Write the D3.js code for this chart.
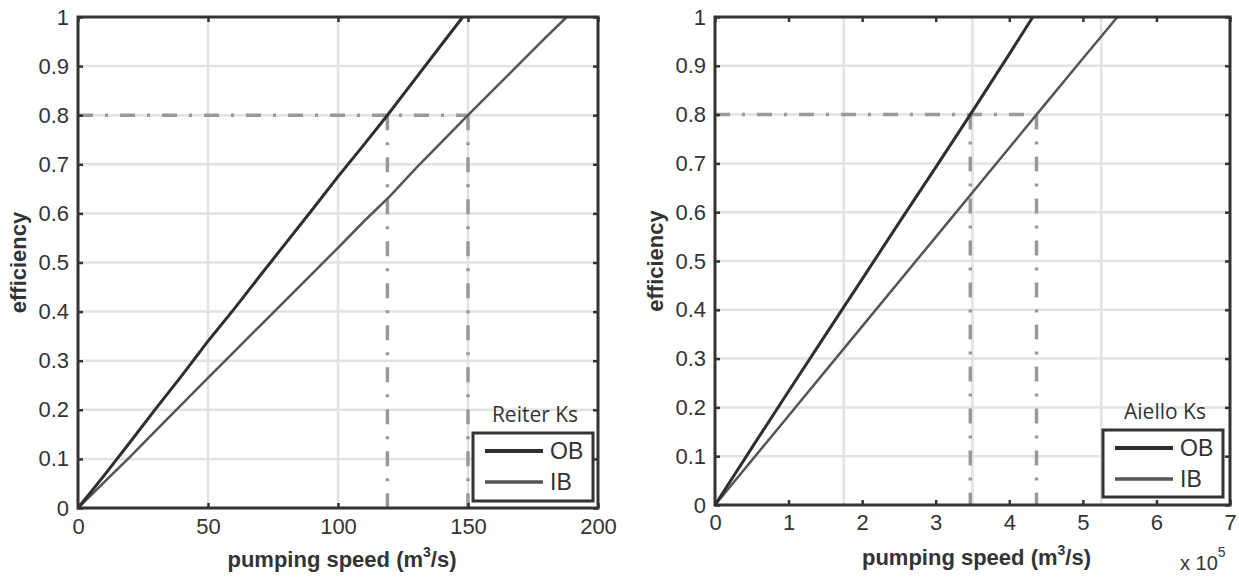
<!DOCTYPE html>
<html><head><meta charset="utf-8">
<script src="https://cdn.jsdelivr.net/npm/d3@7"></script>
<style>
body{margin:0;background:#fff;}
svg{display:block;}
</style></head>
<body>
<svg id="c" width="1239" height="578"></svg>
<script>
// ---- Data ----
// Left panel (Reiter Ks), pumping speed in m^3/s
const leftOBSpeed = [0, 10, 20, 30, 40, 50, 60, 70, 80, 90, 100, 110, 119, 130, 140, 148];
const leftOBEff   = [0, 0.066, 0.134, 0.203, 0.27, 0.34, 0.405, 0.473, 0.54, 0.607, 0.675, 0.74, 0.8, 0.876, 0.945, 1.0];
const leftIBSpeed = [0, 10, 20, 30, 36, 50, 60, 70, 80, 90, 100, 110, 120, 130, 140, 150, 160, 170, 180, 188];
const leftIBEff   = [0, 0.052, 0.104, 0.158, 0.19, 0.265, 0.318, 0.371, 0.424, 0.477, 0.53, 0.584, 0.635, 0.692, 0.746, 0.8, 0.853, 0.906, 0.959, 1.0];
const leftRefSpeeds = [119, 150];
// Right panel (Aiello Ks)
const rightOBSpeed = [0, 50000, 100000, 150000, 200000, 250000, 300000, 347000, 400000, 432000];
const rightOBEff   = [0, 0.117, 0.233, 0.348, 0.463, 0.578, 0.692, 0.8, 0.924, 1.0];
const rightIBSpeed = [0, 100000, 200000, 300000, 400000, 437000, 500000, 547000];
const rightIBEff   = [0, 0.183, 0.366, 0.549, 0.732, 0.8, 0.915, 1.0];
const rightRefSpeeds = [347000, 437000];
const refEff = 0.8;

const yTicks = [0, 0.1, 0.2, 0.3, 0.4, 0.5, 0.6, 0.7, 0.8, 0.9, 1];
const yTickLabels = ["0", "0.1", "0.2", "0.3", "0.4", "0.5", "0.6", "0.7", "0.8", "0.9", "1"];
const leftXTicks = [0, 50, 100, 150, 200];
const leftXGrid = [50, 100, 150];
const rightXTicks = [0, 100000, 200000, 300000, 400000, 500000, 600000, 700000];
const rightXTickLabels = ["0", "1", "2", "3", "4", "5", "6", "7"];
const rightXGrid = [175000, 350000, 525000];
const seriesNames = ["OB", "IB"];
const legendTitles = ["Reiter Ks", "Aiello Ks"];

const svg = d3.select("#c");
const TXT = "#333";
const FONT = "'Liberation Sans', Arial, sans-serif";

function panel(cfg) {
  const x = d3.scaleLinear().domain(cfg.xDomain).range([cfg.x0, cfg.x1]);
  const y = d3.scaleLinear().domain([0, 1]).range([cfg.y0, cfg.y1]);
  const g = svg.append("g");

  // grid
  g.selectAll(".gy").data(yTicks.slice(1, -1)).join("line")
    .attr("x1", cfg.x0).attr("x2", cfg.x1)
    .attr("y1", d => y(d)).attr("y2", d => y(d))
    .attr("stroke", "#e2e2e2").attr("stroke-width", 2.5);
  g.selectAll(".gx").data(cfg.xGrid).join("line")
    .attr("x1", d => x(d)).attr("x2", d => x(d))
    .attr("y1", cfg.y0).attr("y2", cfg.y1)
    .attr("stroke", "#e2e2e2").attr("stroke-width", 2.5);

  // reference dash-dot lines
  const dash = "15,12,3,12";
  const maxRef = d3.max(cfg.refs);
  g.append("line").attr("x1", x(0)).attr("x2", x(maxRef))
    .attr("y1", y(refEff)).attr("y2", y(refEff))
    .attr("stroke", "#999").attr("stroke-width", 3.5).attr("stroke-dasharray", dash);
  g.selectAll(".rv").data(cfg.refs).join("line")
    .attr("x1", d => x(d)).attr("x2", d => x(d))
    .attr("y1", y(refEff)).attr("y2", y(0))
    .attr("stroke", "#999").attr("stroke-width", 3.5).attr("stroke-dasharray", dash);

  // series lines
  const line = d3.line().x(d => x(d[0])).y(d => y(d[1]));
  const ob = cfg.obS.map((s, i) => [s, cfg.obE[i]]);
  const ib = cfg.ibS.map((s, i) => [s, cfg.ibE[i]]);
  g.append("path").datum(ib).attr("d", line).attr("fill", "none")
    .attr("stroke", "#555").attr("stroke-width", 2.5);
  g.append("path").datum(ob).attr("d", line).attr("fill", "none")
    .attr("stroke", "#2e2e2e").attr("stroke-width", 3);

  // axes (ticks inside)
  const fmtX = d => cfg.xLabels[cfg.xTicks.indexOf(d)];
  const fmtY = d => yTickLabels[yTicks.indexOf(d)];
  const ax = [
    g.append("g").attr("transform", `translate(0,${cfg.y0})`)
      .call(d3.axisBottom(x).tickValues(cfg.xTicks).tickFormat(fmtX).tickSize(-5).tickSizeOuter(0).tickPadding(cfg.xPad)),
    g.append("g").attr("transform", `translate(0,${cfg.y1})`)
      .call(d3.axisTop(x).tickValues(cfg.xTicks).tickFormat("").tickSize(-5).tickSizeOuter(0)),
    g.append("g").attr("transform", `translate(${cfg.x0},0)`)
      .call(d3.axisLeft(y).tickValues(yTicks).tickFormat(fmtY).tickSize(-5).tickSizeOuter(0).tickPadding(9)),
    g.append("g").attr("transform", `translate(${cfg.x1},0)`)
      .call(d3.axisRight(y).tickValues(yTicks).tickFormat("").tickSize(-5).tickSizeOuter(0))
  ];
  ax.forEach(a => {
    a.select(".domain").remove();
    a.selectAll(".tick line").attr("stroke", "#333").attr("stroke-width", 2.5);
    a.selectAll(".tick text").attr("fill", TXT).attr("font-family", FONT).attr("font-size", 22);
  });

  // frame
  g.append("rect").attr("x", cfg.x0).attr("y", cfg.y1)
    .attr("width", cfg.x1 - cfg.x0).attr("height", cfg.y0 - cfg.y1)
    .attr("fill", "none").attr("stroke", "#333").attr("stroke-width", 3);

  // axis labels
  const xl = g.append("text").attr("x", (cfg.x0 + cfg.x1) / 2 + 4).attr("y", cfg.xLabelY)
    .attr("text-anchor", "middle").attr("font-family", FONT).attr("font-weight", "bold")
    .attr("font-size", 22).attr("fill", TXT);
  xl.append("tspan").text("pumping speed (m");
  xl.append("tspan").attr("font-size", 14).attr("dy", -10).text("3");
  xl.append("tspan").attr("dy", 10).text("/s)");

  g.append("text").attr("transform", `translate(${cfg.yLabelX},${(cfg.y0 + cfg.y1) / 2}) rotate(-90)`)
    .attr("text-anchor", "middle").attr("font-family", FONT).attr("font-weight", "bold")
    .attr("font-size", 22).attr("fill", TXT).text("efficiency");

  // legend
  const L = cfg.legend;
  g.append("text").attr("x", (L.x0 + L.x1) / 2 + 2).attr("y", L.y0 - 11)
    .attr("text-anchor", "middle").attr("font-family", "'Open Sans', sans-serif")
    .attr("font-size", 21).attr("fill", TXT).text(cfg.title);
  g.append("rect").attr("x", L.x0).attr("y", L.y0).attr("width", L.x1 - L.x0).attr("height", L.y1 - L.y0)
    .attr("fill", "#fff").attr("stroke", "#333").attr("stroke-width", 3);
  const cols = ["#2e2e2e", "#555"];
  const widths = [4, 3.5];
  seriesNames.forEach((n, i) => {
    const yy = L.y0 + 18 + i * 31;
    g.append("line").attr("x1", L.x0 + 12).attr("x2", L.x0 + 70)
      .attr("y1", yy).attr("y2", yy).attr("stroke", cols[i]).attr("stroke-width", widths[i]);
    g.append("text").attr("x", L.x0 + 77).attr("y", yy + 8)
      .attr("font-family", FONT).attr("font-size", 23).attr("fill", TXT).text(n);
  });
  return {x, y, g};
}

panel({
  xDomain: [0, 200], x0: 78, x1: 598, y0: 508, y1: 17,
  xTicks: leftXTicks, xLabels: leftXTicks.map(String), xGrid: leftXGrid, xPad: 10,
  obS: leftOBSpeed, obE: leftOBEff, ibS: leftIBSpeed, ibE: leftIBEff, refs: leftRefSpeeds,
  xLabelY: 567, yLabelX: 26, title: legendTitles[0],
  legend: {x0: 473, x1: 593, y0: 433, y1: 501}
});
const R = panel({
  xDomain: [0, 700000], x0: 715, x1: 1230, y0: 505, y1: 17,
  xTicks: rightXTicks, xLabels: rightXTickLabels, xGrid: rightXGrid, xPad: 9,
  obS: rightOBSpeed, obE: rightOBEff, ibS: rightIBSpeed, ibE: rightIBEff, refs: rightRefSpeeds,
  xLabelY: 565, yLabelX: 663, title: legendTitles[1],
  legend: {x0: 1103, x1: 1223, y0: 430, y1: 497}
});
// exponent label
const ex = R.g.append("text").attr("x", 1180).attr("y", 570)
  .attr("font-family", FONT).attr("font-size", 20).attr("fill", TXT);
ex.append("tspan").text("x 10");
ex.append("tspan").attr("font-size", 14).attr("dy", -13).text("5");
</script>
</body></html>
